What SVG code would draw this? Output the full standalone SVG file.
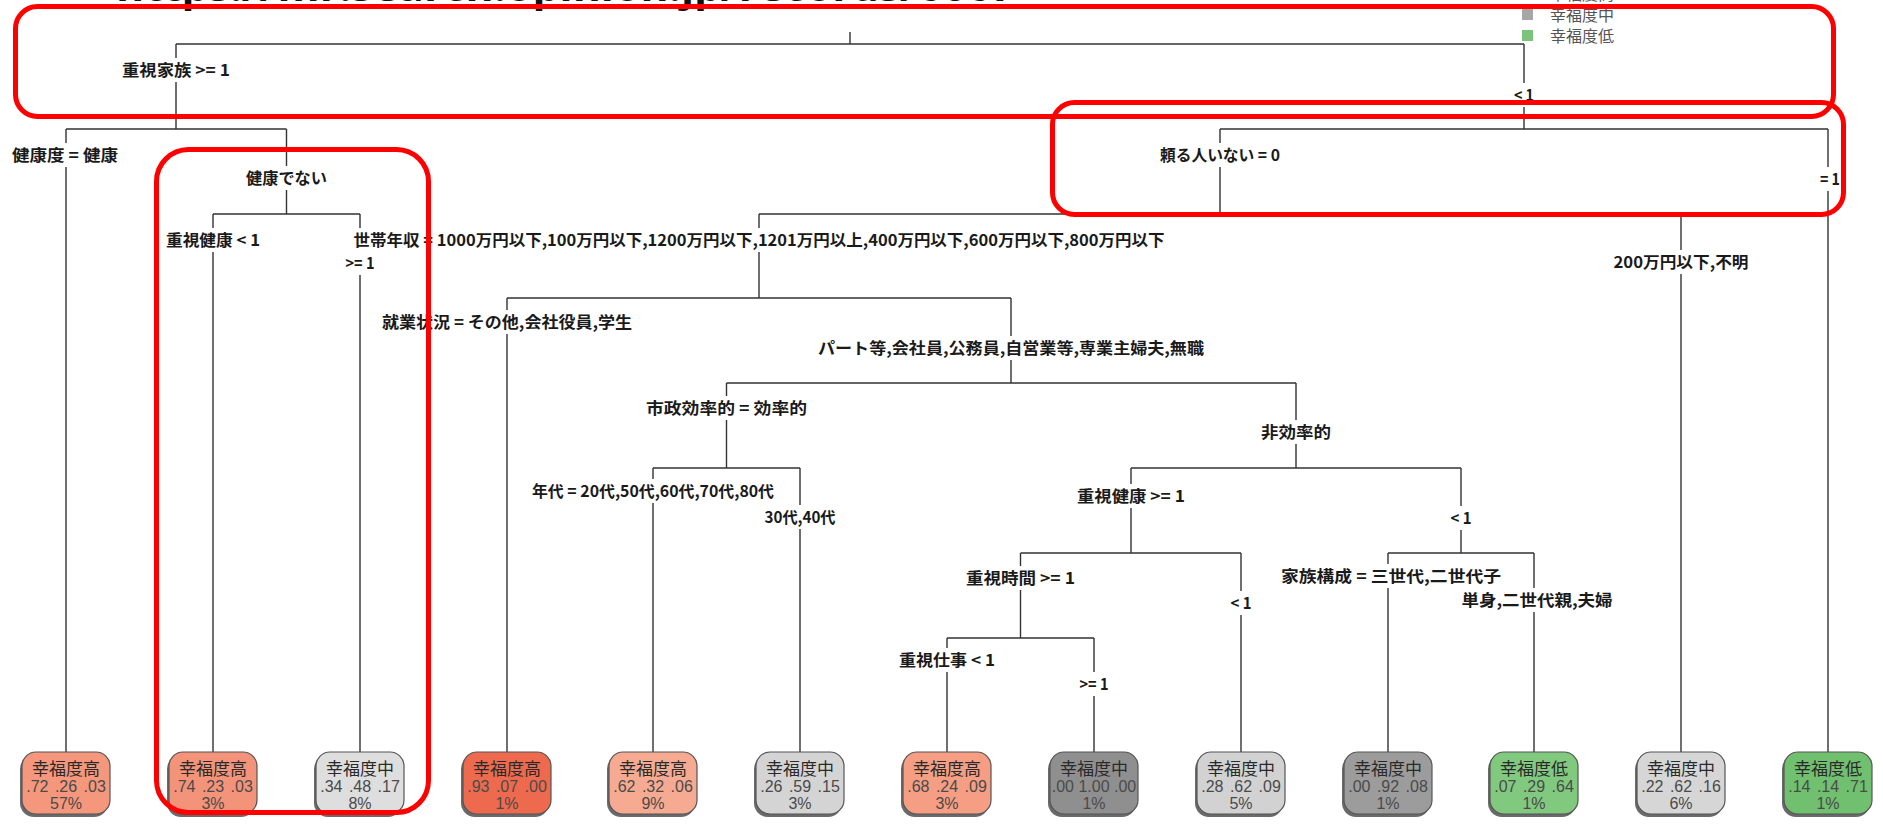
<svg xmlns="http://www.w3.org/2000/svg" width="1883" height="829" viewBox="0 0 1883 829">
<style>
.conn path{stroke:#333333;stroke-width:1.4;fill:none}
.lbl rect{fill:#ffffff}
.lbl text{font-family:"Noto Sans CJK JP","Liberation Sans",sans-serif;font-size:16px;font-weight:bold;fill:#1a1a1a;text-anchor:middle}
.leaf .sh{fill:#6a6a6a}
.leaf .bx{stroke:#555555;stroke-width:1.2}
.leaf text{text-anchor:middle}
.leaf .t1{font-family:"Noto Sans CJK JP",sans-serif;font-size:17px;fill:#2a2a2a}
.leaf .t2,.leaf .t3{font-family:"Liberation Sans",sans-serif;font-size:16px;fill:#4a4a4a}
.leaf .t2{word-spacing:2px}
.leg{font-family:"Noto Sans CJK JP",sans-serif;font-size:16px;fill:#555555}
.ann{fill:none;stroke:#ff0000;stroke-width:5}
.title{font-family:"Open Sans","Liberation Sans",sans-serif;font-size:42px;font-weight:bold;fill:#111111}
</style>
<rect x="0" y="0" width="1883" height="829" fill="#ffffff"/>

<text class="title" x="116" y="1" textLength="900" lengthAdjust="spacingAndGlyphs">https://mr.search.opinion.jp/records/6067</text>

<g id="legend">
  <rect x="1522" y="-12" width="11" height="11" fill="#F4977C"/>
  <text class="leg" x="1550" y="0">幸福度高</text>
  <rect x="1522" y="9" width="11" height="11" fill="#A6A6A6"/>
  <text class="leg" x="1550" y="21">幸福度中</text>
  <rect x="1522" y="30" width="11" height="11" fill="#7CC47C"/>
  <text class="leg" x="1550" y="42">幸福度低</text>
</g>

<g id="connectors" class="conn">
  <path d="M850,32 V44 M176,44 H1524"/>
  <path d="M176,44 V129 M66,129 H286.5"/>
  <path d="M1524,44 V129 M1220,129 H1828"/>
  <path d="M66,129 V752"/>
  <path d="M286.5,129 V214 M213,214 H360"/>
  <path d="M213,214 V752 M360,214 V752"/>
  <path d="M1220,129 V214 M759,214 H1681"/>
  <path d="M1828,129 V752"/>
  <path d="M759,214 V298 M507,298 H1011"/>
  <path d="M1681,214 V752"/>
  <path d="M507,298 V752"/>
  <path d="M1011,298 V383 M726.5,383 H1296"/>
  <path d="M726.5,383 V468 M653,468 H800"/>
  <path d="M653,468 V752 M800,468 V752"/>
  <path d="M1296,383 V468 M1131,468 H1461"/>
  <path d="M1131,468 V553 M1020.5,553 H1241"/>
  <path d="M1461,468 V553 M1388,553 H1534"/>
  <path d="M1241,553 V752 M1388,553 V752 M1534,553 V752"/>
  <path d="M1020.5,553 V638 M947,638 H1094"/>
  <path d="M947,638 V752 M1094,638 V752"/>
</g>

<g id="labels">
  <g class="lbl"><rect x="119" y="58" width="114" height="24"/><text x="176" y="76" textLength="108" lengthAdjust="spacingAndGlyphs">重視家族 &gt;= 1</text></g>
  <g class="lbl"><rect x="1511" y="83" width="26" height="24"/><text x="1524" y="101" textLength="20" lengthAdjust="spacingAndGlyphs">&lt; 1</text></g>
  <g class="lbl"><rect x="9" y="143" width="112" height="24"/><text x="65" y="161" textLength="106" lengthAdjust="spacingAndGlyphs">健康度 = 健康</text></g>
  <g class="lbl"><rect x="243" y="166" width="87" height="24"/><text x="286.5" y="184" textLength="81" lengthAdjust="spacingAndGlyphs">健康でない</text></g>
  <g class="lbl"><rect x="163" y="228" width="100" height="24"/><text x="213" y="246" textLength="94" lengthAdjust="spacingAndGlyphs">重視健康 &lt; 1</text></g>
  <g class="lbl"><rect x="344" y="251" width="33" height="24"/><text x="360" y="269" textLength="29" lengthAdjust="spacingAndGlyphs">&gt;= 1</text></g>
  <g class="lbl"><rect x="350" y="228" width="818" height="24"/><text x="759" y="246" textLength="811" lengthAdjust="spacingAndGlyphs">世帯年収 = 1000万円以下,100万円以下,1200万円以下,1201万円以上,400万円以下,600万円以下,800万円以下</text></g>
  <g class="lbl"><rect x="1611" y="250" width="141" height="24"/><text x="1681" y="268" textLength="135" lengthAdjust="spacingAndGlyphs">200万円以下,不明</text></g>
  <g class="lbl"><rect x="1157" y="143" width="126" height="24"/><text x="1220" y="161" textLength="120" lengthAdjust="spacingAndGlyphs">頼る人いない = 0</text></g>
  <g class="lbl"><rect x="1817" y="167" width="26" height="24"/><text x="1830" y="185" textLength="20" lengthAdjust="spacingAndGlyphs">= 1</text></g>
  <g class="lbl"><rect x="379" y="310" width="256" height="24"/><text x="507" y="328" textLength="250" lengthAdjust="spacingAndGlyphs">就業状況 = その他,会社役員,学生</text></g>
  <g class="lbl"><rect x="815" y="336" width="392" height="24"/><text x="1011" y="354" textLength="386" lengthAdjust="spacingAndGlyphs">パート等,会社員,公務員,自営業等,専業主婦夫,無職</text></g>
  <g class="lbl"><rect x="643" y="396" width="167" height="24"/><text x="726.5" y="414" textLength="161" lengthAdjust="spacingAndGlyphs">市政効率的 = 効率的</text></g>
  <g class="lbl"><rect x="1258" y="420" width="76" height="24"/><text x="1296" y="438" textLength="70" lengthAdjust="spacingAndGlyphs">非効率的</text></g>
  <g class="lbl"><rect x="529" y="479" width="248" height="24"/><text x="653" y="497" textLength="242" lengthAdjust="spacingAndGlyphs">年代 = 20代,50代,60代,70代,80代</text></g>
  <g class="lbl"><rect x="762" y="505" width="77" height="24"/><text x="800" y="523" textLength="71" lengthAdjust="spacingAndGlyphs">30代,40代</text></g>
  <g class="lbl"><rect x="1074" y="484" width="114" height="24"/><text x="1131" y="502" textLength="108" lengthAdjust="spacingAndGlyphs">重視健康 &gt;= 1</text></g>
  <g class="lbl"><rect x="1448" y="506" width="26" height="24"/><text x="1461" y="524" textLength="21" lengthAdjust="spacingAndGlyphs">&lt; 1</text></g>
  <g class="lbl"><rect x="963" y="566" width="115" height="24"/><text x="1020.5" y="584" textLength="109" lengthAdjust="spacingAndGlyphs">重視時間 &gt;= 1</text></g>
  <g class="lbl"><rect x="1228" y="591" width="26" height="24"/><text x="1241" y="609" textLength="21" lengthAdjust="spacingAndGlyphs">&lt; 1</text></g>
  <g class="lbl"><rect x="1278" y="564" width="226" height="24"/><text x="1391" y="582" textLength="220" lengthAdjust="spacingAndGlyphs">家族構成 = 三世代,二世代子</text></g>
  <g class="lbl"><rect x="1459" y="588" width="157" height="24"/><text x="1537" y="606" textLength="151" lengthAdjust="spacingAndGlyphs">単身,二世代親,夫婦</text></g>
  <g class="lbl"><rect x="897" y="648" width="100" height="24"/><text x="947" y="666" textLength="96" lengthAdjust="spacingAndGlyphs">重視仕事 &lt; 1</text></g>
  <g class="lbl"><rect x="1078" y="672" width="33" height="24"/><text x="1094" y="690" textLength="29" lengthAdjust="spacingAndGlyphs">&gt;= 1</text></g>
</g>

<g id="leaf1" class="leaf" transform="translate(66,0)"><rect class="sh" x="-46" y="755" width="88" height="62" rx="14"/><rect class="bx" x="-44" y="752" width="88" height="62" rx="14" fill="#F4977C"/><text class="t1" y="775">幸福度高</text><text class="t2" y="792">.72 .26 .03</text><text class="t3" y="809">57%</text></g>
<g id="leaf2" class="leaf" transform="translate(213,0)"><rect class="sh" x="-46" y="755" width="88" height="62" rx="14"/><rect class="bx" x="-44" y="752" width="88" height="62" rx="14" fill="#F3937A"/><text class="t1" y="775">幸福度高</text><text class="t2" y="792">.74 .23 .03</text><text class="t3" y="809">3%</text></g>
<g id="leaf3" class="leaf" transform="translate(360,0)"><rect class="sh" x="-46" y="755" width="88" height="62" rx="14"/><rect class="bx" x="-44" y="752" width="88" height="62" rx="14" fill="#DEDEDE"/><text class="t1" y="775">幸福度中</text><text class="t2" y="792">.34 .48 .17</text><text class="t3" y="809">8%</text></g>
<g id="leaf4" class="leaf" transform="translate(507,0)"><rect class="sh" x="-46" y="755" width="88" height="62" rx="14"/><rect class="bx" x="-44" y="752" width="88" height="62" rx="14" fill="#EE6A4E"/><text class="t1" y="775">幸福度高</text><text class="t2" y="792">.93 .07 .00</text><text class="t3" y="809">1%</text></g>
<g id="leaf5" class="leaf" transform="translate(653,0)"><rect class="sh" x="-46" y="755" width="88" height="62" rx="14"/><rect class="bx" x="-44" y="752" width="88" height="62" rx="14" fill="#F7AA92"/><text class="t1" y="775">幸福度高</text><text class="t2" y="792">.62 .32 .06</text><text class="t3" y="809">9%</text></g>
<g id="leaf6" class="leaf" transform="translate(800,0)"><rect class="sh" x="-46" y="755" width="88" height="62" rx="14"/><rect class="bx" x="-44" y="752" width="88" height="62" rx="14" fill="#D4D4D4"/><text class="t1" y="775">幸福度中</text><text class="t2" y="792">.26 .59 .15</text><text class="t3" y="809">3%</text></g>
<g id="leaf7" class="leaf" transform="translate(947,0)"><rect class="sh" x="-46" y="755" width="88" height="62" rx="14"/><rect class="bx" x="-44" y="752" width="88" height="62" rx="14" fill="#F59E84"/><text class="t1" y="775">幸福度高</text><text class="t2" y="792">.68 .24 .09</text><text class="t3" y="809">3%</text></g>
<g id="leaf8" class="leaf" transform="translate(1094,0)"><rect class="sh" x="-46" y="755" width="88" height="62" rx="14"/><rect class="bx" x="-44" y="752" width="88" height="62" rx="14" fill="#8F8F8F"/><text class="t1" y="775">幸福度中</text><text class="t2" y="792" style="word-spacing:0">.00 1.00 .00</text><text class="t3" y="809">1%</text></g>
<g id="leaf9" class="leaf" transform="translate(1241,0)"><rect class="sh" x="-46" y="755" width="88" height="62" rx="14"/><rect class="bx" x="-44" y="752" width="88" height="62" rx="14" fill="#D2D2D2"/><text class="t1" y="775">幸福度中</text><text class="t2" y="792">.28 .62 .09</text><text class="t3" y="809">5%</text></g>
<g id="leaf10" class="leaf" transform="translate(1388,0)"><rect class="sh" x="-46" y="755" width="88" height="62" rx="14"/><rect class="bx" x="-44" y="752" width="88" height="62" rx="14" fill="#9C9C9C"/><text class="t1" y="775">幸福度中</text><text class="t2" y="792">.00 .92 .08</text><text class="t3" y="809">1%</text></g>
<g id="leaf11" class="leaf" transform="translate(1534,0)"><rect class="sh" x="-46" y="755" width="88" height="62" rx="14"/><rect class="bx" x="-44" y="752" width="88" height="62" rx="14" fill="#80C97F"/><text class="t1" y="775">幸福度低</text><text class="t2" y="792">.07 .29 .64</text><text class="t3" y="809">1%</text></g>
<g id="leaf12" class="leaf" transform="translate(1681,0)"><rect class="sh" x="-46" y="755" width="88" height="62" rx="14"/><rect class="bx" x="-44" y="752" width="88" height="62" rx="14" fill="#D6D6D6"/><text class="t1" y="775">幸福度中</text><text class="t2" y="792">.22 .62 .16</text><text class="t3" y="809">6%</text></g>
<g id="leaf13" class="leaf" transform="translate(1828,0)"><rect class="sh" x="-46" y="755" width="88" height="62" rx="14"/><rect class="bx" x="-44" y="752" width="88" height="62" rx="14" fill="#70C070"/><text class="t1" y="775">幸福度低</text><text class="t2" y="792">.14 .14 .71</text><text class="t3" y="809">1%</text></g>

<g id="annotations">
  <rect class="ann" x="15.5" y="6.5" width="1818" height="110" rx="22"/>
  <rect class="ann" x="1052.5" y="102.5" width="791" height="112" rx="22"/>
  <rect class="ann" x="156.5" y="149.5" width="272" height="663" rx="32"/>
</g>
</svg>
